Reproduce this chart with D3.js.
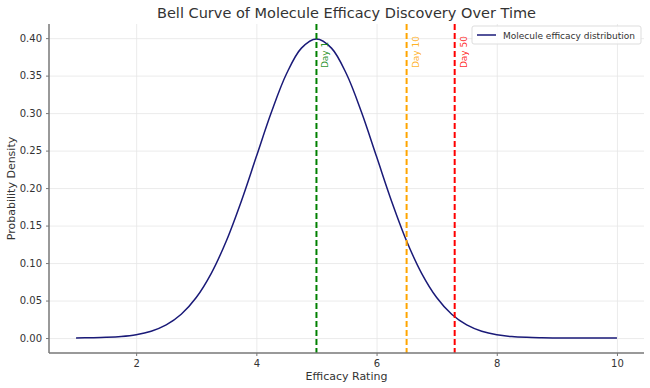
<!DOCTYPE html>
<html>
<head>
<meta charset="utf-8">
<script src="https://cdn.jsdelivr.net/npm/d3@7"></script>
<style>
body { margin: 0; background: #fff; }
text { font-family: "DejaVu Sans", sans-serif; fill: #333; }
.grid line { stroke: #e6e6e6; stroke-width: 0.8; }
.grid path { display: none; }
.axis path { display: none; }
.axis line { stroke: #777; }
</style>
</head>
<body>
<div class="chart"></div>
<script>
// Data ------------------------------------------------------------------
const efficacy = [1, 1.25, 1.5, 1.75, 2, 2.25, 2.5, 2.75, 3, 3.25, 3.5, 3.75, 4, 4.25, 4.5, 4.75,
  5, 5.25, 5.5, 5.75, 6, 6.25, 6.5, 6.75, 7, 7.25, 7.5, 7.75, 8, 8.25, 8.5, 8.75, 9, 9.25, 9.5, 9.75, 10];
const density = [0.0001, 0.0004, 0.0009, 0.0020, 0.0044, 0.0091, 0.0175, 0.0317, 0.0540, 0.0863, 0.1295, 0.1826,
  0.2420, 0.3011, 0.3521, 0.3867, 0.3989, 0.3867, 0.3521, 0.3011, 0.2420, 0.1826, 0.1295, 0.0863,
  0.0540, 0.0317, 0.0175, 0.0091, 0.0044, 0.0020, 0.0009, 0.0004, 0.0001, 0.0000, 0.0000, 0.0000, 0.0000];
const markerDays = ["Day 1", "Day 10", "Day 50"];
const markerValues = [5, 6.5, 7.3];
const markerColors = ["green", "orange", "red"];
const xTicks = [2, 4, 6, 8, 10];
const yTicks = [0, 0.05, 0.1, 0.15, 0.2, 0.25, 0.3, 0.35, 0.4];

const data = efficacy.map((x, i) => ({ x: x, y: density[i] }));

// SVG Dimensions ----------------------------------------------------------
const width = 650;
const height = 388;
const margin = { top: 24, right: 6, bottom: 35, left: 49 };

const svg = d3.select(".chart")
  .append("svg")
  .attr("width", width)
  .attr("height", height);

// Scales (matplotlib style 5% padding) -----------------------------------
const xPad = (10 - 1) * 0.05;
const yMax = d3.max(density);
const yPad = yMax * 0.05;

const xScale = d3.scaleLinear()
  .domain([1 - xPad, 10 + xPad])
  .range([margin.left, width - margin.right]);

const yScale = d3.scaleLinear()
  .domain([-yPad, yMax + yPad])
  .range([height - margin.bottom, margin.top]);

// Grids -------------------------------------------------------------------
svg.append("g")
  .attr("class", "grid")
  .attr("transform", `translate(${margin.left},0)`)
  .call(d3.axisLeft(yScale).tickValues(yTicks).tickSize(-(width - margin.left - margin.right)).tickFormat(""));

svg.append("g")
  .attr("class", "grid")
  .attr("transform", `translate(0,${height - margin.bottom})`)
  .call(d3.axisBottom(xScale).tickValues(xTicks).tickSize(-(height - margin.top - margin.bottom)).tickFormat(""));

// Curve -------------------------------------------------------------------
const line = d3.line()
  .x(d => xScale(d.x))
  .y(d => yScale(d.y))
  .curve(d3.curveCatmullRom);

svg.append("path")
  .datum(data)
  .attr("fill", "none")
  .attr("stroke", "#1a1a78")
  .attr("stroke-width", 1.5)
  .attr("d", line);

// Marker lines ------------------------------------------------------------
markerValues.forEach((v, i) => {
  svg.append("line")
    .attr("x1", xScale(v)).attr("x2", xScale(v))
    .attr("y1", margin.top).attr("y2", height - margin.bottom)
    .attr("stroke", markerColors[i])
    .attr("stroke-width", 2)
    .attr("stroke-dasharray", "6,3");

  svg.append("text")
    .attr("transform", `translate(${xScale(v + 0.1) + 6},${yScale(0.36)}) rotate(-90)`)
    .attr("font-size", 9)
    .style("fill", markerColors[i])
    .style("fill-opacity", 0.85)
    .text(markerDays[i]);
});

// Axes --------------------------------------------------------------------
const xAxis = svg.append("g")
  .attr("class", "axis")
  .attr("transform", `translate(0,${height - margin.bottom})`)
  .call(d3.axisBottom(xScale).tickValues(xTicks).tickSize(3).tickPadding(4));
xAxis.selectAll("text").attr("font-size", 10).attr("font-family", "DejaVu Sans");

const yAxis = svg.append("g")
  .attr("class", "axis")
  .attr("transform", `translate(${margin.left},0)`)
  .call(d3.axisLeft(yScale).tickValues(yTicks).tickFormat(d3.format(".2f")).tickSize(3).tickPadding(4));
yAxis.selectAll("text").attr("font-size", 10).attr("font-family", "DejaVu Sans");

// Spines
svg.append("line")
  .attr("x1", margin.left).attr("x2", width - margin.right)
  .attr("y1", height - margin.bottom).attr("y2", height - margin.bottom)
  .attr("stroke", "#777").attr("stroke-width", 1.5);
svg.append("line")
  .attr("x1", margin.left).attr("x2", margin.left)
  .attr("y1", margin.top).attr("y2", height - margin.bottom)
  .attr("stroke", "#777").attr("stroke-width", 1.5);

// Labels ------------------------------------------------------------------
svg.append("text")
  .attr("x", (margin.left + width - margin.right) / 2)
  .attr("y", 18)
  .attr("text-anchor", "middle")
  .attr("font-size", 14.5)
  .text("Bell Curve of Molecule Efficacy Discovery Over Time");

svg.append("text")
  .attr("x", (margin.left + width - margin.right) / 2)
  .attr("y", 380)
  .attr("text-anchor", "middle")
  .attr("font-size", 11)
  .text("Efficacy Rating");

svg.append("text")
  .attr("transform", `translate(15,${(margin.top + height - margin.bottom) / 2}) rotate(-90)`)
  .attr("text-anchor", "middle")
  .attr("font-size", 11)
  .text("Probability Density");

// Legend ------------------------------------------------------------------
const legend = svg.append("g").attr("transform", "translate(472,26)");
legend.append("rect")
  .attr("width", 169).attr("height", 18).attr("rx", 2)
  .attr("fill", "#fff").attr("fill-opacity", 0.85)
  .attr("stroke", "#ddd");
legend.append("line")
  .attr("x1", 5).attr("x2", 24).attr("y1", 9).attr("y2", 9)
  .attr("stroke", "#1a1a78").attr("stroke-width", 1.5);
legend.append("text")
  .attr("x", 31).attr("y", 12.5)
  .attr("font-size", 9)
  .text("Molecule efficacy distribution");
</script>
</body>
</html>
